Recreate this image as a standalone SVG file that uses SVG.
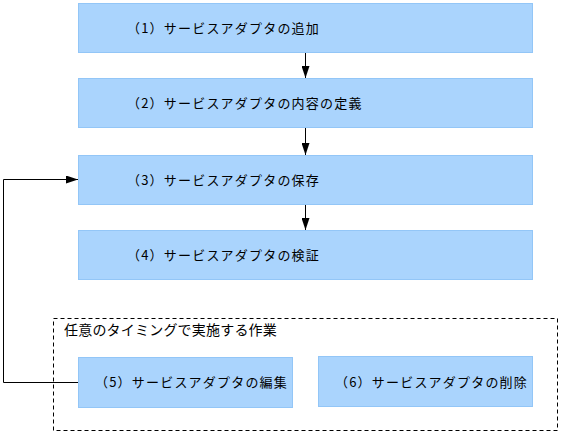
<svg xmlns="http://www.w3.org/2000/svg" width="561" height="435" viewBox="0 0 561 435">
<style>
.box{fill:#aad4fd;stroke:#93c6f7;stroke-width:1}
text{font-family:"Noto Sans CJK JP","Noto Sans",sans-serif;font-size:13px;letter-spacing:1.2px;fill:#000}
.conn{fill:none;stroke:#000;stroke-width:1}
</style>
<defs>
<marker id="ah" viewBox="0 0 12 8" refX="12" refY="4" markerWidth="12" markerHeight="8" markerUnits="userSpaceOnUse" orient="auto">
<path d="M0,0 L12,4 L0,8 z" fill="#000"/>
</marker>
</defs>
<rect x="53.5" y="318.5" width="504" height="112" fill="none" stroke="#000" stroke-dasharray="4,3"/>
<text x="64" y="335" style="font-size:14px;letter-spacing:0.2px">任意のタイミングで実施する作業</text>
<g id="n1"><rect class="box" x="78.5" y="3.5" width="454" height="49"/><text x="127" y="33">（1）サービスアダプタの追加</text></g>
<g id="n2"><rect class="box" x="78.5" y="78.5" width="454" height="49"/><text x="127" y="108">（2）サービスアダプタの内容の定義</text></g>
<g id="n3"><rect class="box" x="78.5" y="155.5" width="454" height="49"/><text x="127" y="185">（3）サービスアダプタの保存</text></g>
<g id="n4"><rect class="box" x="78.5" y="230.5" width="454" height="49"/><text x="127" y="260">（4）サービスアダプタの検証</text></g>
<g id="n5"><rect class="box" x="78.5" y="357.5" width="214" height="50"/><text x="95" y="387">（5）サービスアダプタの編集</text></g>
<g id="n6"><rect class="box" x="318.5" y="356.5" width="214" height="50"/><text x="335" y="387">（6）サービスアダプタの削除</text></g>
<g id="connectors">
<path class="conn" d="M305.5,53 V78" marker-end="url(#ah)"/>
<path class="conn" d="M305.5,128 V155" marker-end="url(#ah)"/>
<path class="conn" d="M305.5,205 V230" marker-end="url(#ah)"/>
<path class="conn" d="M78,382.5 H3.5 V179.5 H78" marker-end="url(#ah)"/>
</g>
</svg>
